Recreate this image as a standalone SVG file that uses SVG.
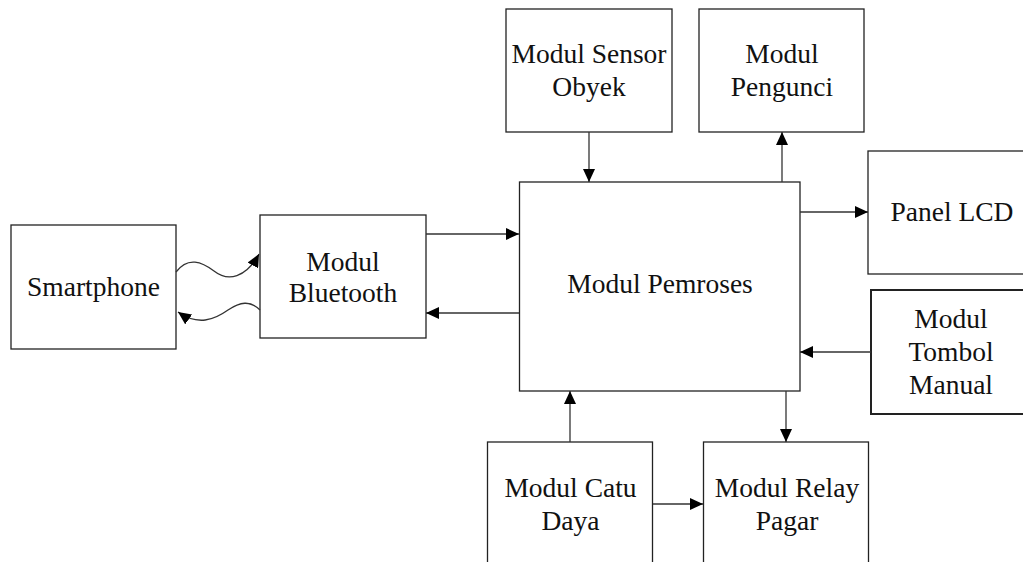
<svg xmlns="http://www.w3.org/2000/svg" width="1023" height="562" viewBox="0 0 1023 562">
<style>
.box{fill:#fff;stroke:#222;stroke-width:1.3}
.t{font-family:"Liberation Serif","Times New Roman",serif;font-size:27.5px;fill:#111;text-anchor:middle}
.c{fill:none;stroke:#333;stroke-width:1.3}
</style>
<defs>
<marker id="ah" markerUnits="userSpaceOnUse" markerWidth="14" markerHeight="12" refX="13" refY="6" orient="auto">
<path d="M0,0 L13,6 L0,12 Z" fill="#000"/>
</marker>
</defs>
<rect width="1023" height="562" fill="#fff"/>
<g id="smartphone"><rect class="box" x="11" y="225" width="165" height="124"/><text class="t" x="93.5" y="296">Smartphone</text></g>
<g id="bluetooth"><rect class="box" x="260" y="215" width="166" height="123"/><text class="t" x="343" y="271">Modul</text><text class="t" x="343" y="302">Bluetooth</text></g>
<g id="pemroses"><rect class="box" x="519.5" y="182" width="280.5" height="209"/><text class="t" x="660" y="293">Modul Pemroses</text></g>
<g id="sensor"><rect class="box" x="506" y="9" width="166" height="123"/><text class="t" x="589" y="63">Modul Sensor</text><text class="t" x="589" y="96">Obyek</text></g>
<g id="pengunci"><rect class="box" x="699" y="9" width="165" height="123"/><text class="t" x="782" y="63">Modul</text><text class="t" x="782" y="96">Pengunci</text></g>
<g id="lcd"><rect class="box" x="868" y="151" width="170" height="123"/><text class="t" x="952" y="221">Panel LCD</text></g>
<g id="tombol"><rect class="box" x="871" y="290" width="170" height="124" style="stroke-width:2"/><text class="t" x="951" y="328">Modul</text><text class="t" x="951" y="361">Tombol</text><text class="t" x="951" y="394">Manual</text></g>
<g id="catu"><rect class="box" x="487.5" y="442" width="165" height="140"/><text class="t" x="570.5" y="497">Modul Catu</text><text class="t" x="570.5" y="530">Daya</text></g>
<g id="relay"><rect class="box" x="703.5" y="442" width="165" height="140"/><text class="t" x="787" y="497">Modul Relay</text><text class="t" x="787" y="530">Pagar</text></g>
<g id="connectors">
<path class="c" d="M176,272 C188,256 202,262 214,271 C228,282 246,278 259,254" marker-end="url(#ah)"/>
<path class="c" d="M260,310 C250,300 240,302 228,310 C214,320 198,326 178,312" marker-end="url(#ah)"/>
<line class="c" x1="426" y1="234" x2="519" y2="234" marker-end="url(#ah)"/>
<line class="c" x1="519" y1="313" x2="426" y2="313" marker-end="url(#ah)"/>
<line class="c" x1="589" y1="132" x2="589" y2="182" marker-end="url(#ah)"/>
<line class="c" x1="782" y1="182" x2="782" y2="132" marker-end="url(#ah)"/>
<line class="c" x1="800" y1="212" x2="868" y2="212" marker-end="url(#ah)"/>
<line class="c" x1="871" y1="352" x2="800" y2="352" marker-end="url(#ah)"/>
<line class="c" x1="786" y1="391" x2="786" y2="442" marker-end="url(#ah)"/>
<line class="c" x1="570" y1="442" x2="570" y2="391" marker-end="url(#ah)"/>
<line class="c" x1="653" y1="504" x2="703" y2="504" marker-end="url(#ah)"/>
</g>
</svg>
